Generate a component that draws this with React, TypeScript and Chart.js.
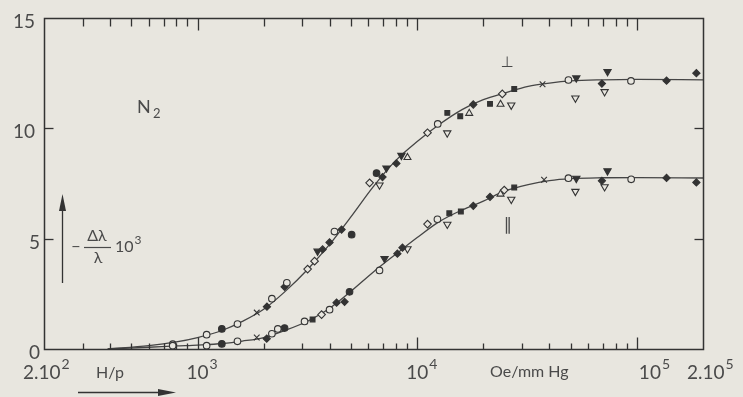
import React, { useEffect, useRef } from "react";
import { Chart, registerables } from "chart.js";

Chart.register(...registerables);

// ---------- data ----------
const xMin = 200;
const xMax = 200000;
const yMin = 0;
const yMax = 15;

const xLabelValues = [200, 1000, 10000, 100000, 200000];
const xLabelBase = ["2.10", "10", "10", "10", "2.10"];
const xLabelExp = ["2", "3", "4", "5", "5"];

const yTickValues = [0, 5, 10, 15];
const yTickLabels = ["0", "5", "10", "15"];

// fitted curves (H/p in Oe/mm Hg, -Δλ/λ · 10³)
const curveH = [390, 600, 800, 1000, 1300, 1600, 2000, 2500, 3200, 4000, 5000, 6300, 8000, 10000, 12500, 16000, 20000, 25000, 32000, 40000, 50000, 70000, 100000, 200000];
const perpCurve = [0, 0.15, 0.32, 0.52, 0.85, 1.25, 1.8, 2.6, 3.65, 4.75, 6.0, 7.35, 8.55, 9.4, 10.15, 10.85, 11.3, 11.6, 11.9, 12.05, 12.15, 12.2, 12.22, 12.2];
const parCurve = [0, 0.08, 0.14, 0.18, 0.25, 0.36, 0.52, 0.84, 1.28, 1.85, 2.62, 3.48, 4.3, 5.05, 5.75, 6.3, 6.7, 7.15, 7.45, 7.63, 7.72, 7.76, 7.77, 7.75];

// measured points, [H/p, value]
const openCircles = [
  [771, 0.22], [1100, 0.65], [1520, 1.13], [2180, 2.28], [2550, 3.0], [4200, 5.32], [12400, 10.2], [48800, 12.19], [94000, 12.15],
  [771, 0.15], [1100, 0.15], [1520, 0.35], [2180, 0.69], [2320, 0.91], [3070, 1.25], [3990, 1.78], [6735, 3.56], [12360, 5.88], [48800, 7.74], [94200, 7.69],
];
const filledCircles = [
  [1290, 0.91], [5030, 5.18], [6530, 7.97],
  [1290, 0.23], [2490, 0.95], [4920, 2.59],
];
const crosses = [
  [1860, 1.65], [37200, 12.0],
  [1860, 0.52], [37800, 7.67],
];
const filledDiamonds = [
  [2070, 1.92], [2490, 2.82], [3710, 4.51], [3990, 4.83], [4525, 5.41], [6950, 7.79], [8040, 8.41], [18000, 11.08], [69300, 12.03], [136500, 12.16], [186600, 12.5],
  [2065, 0.47], [4295, 2.1], [4670, 2.14], [8125, 4.32], [8570, 4.59], [18000, 6.49], [21450, 6.89], [69300, 7.62], [136500, 7.75], [186600, 7.55],
];
const openDiamonds = [
  [3170, 3.62], [3410, 3.98], [6070, 7.53], [11140, 9.8], [24400, 11.56],
  [3670, 1.56], [11140, 5.66], [24900, 7.2],
];
const openTrianglesDown = [
  [6735, 7.43], [13700, 9.79], [26800, 11.05], [52500, 11.37], [71300, 11.66],
  [9030, 4.54], [13710, 5.65], [26800, 6.78], [52500, 7.14], [71300, 7.35],
];
const filledTrianglesDown = [
  [3520, 4.43], [7245, 8.2], [8475, 8.77], [53000, 12.28], [73500, 12.57],
  [7100, 4.1], [53000, 7.73], [73500, 8.07],
];
const filledSquares = [
  [13710, 10.7], [15700, 10.55], [21450, 11.11], [27650, 11.78],
  [3340, 1.34], [14000, 6.15], [15800, 6.23], [27650, 7.32],
];
const openTrianglesUp = [
  [9030, 8.68], [17250, 10.68], [23950, 11.09],
  [23950, 7.02],
];

// ---------- style ----------
const PAPER = "#e8e6df";
const INK = "#333333";
const TEXT = "#4a4a4a";
const FONT = 'Lato, "DejaVu Sans", sans-serif';

function drawPow(ctx: CanvasRenderingContext2D, base: string, exp: string, x: number, y: number, size: number) {
  ctx.textAlign = "left";
  ctx.textBaseline = "alphabetic";
  ctx.font = `${size}px ${FONT}`;
  ctx.fillText(base, x, y);
  const w = ctx.measureText(base).width;
  ctx.font = `${Math.round(size * 0.72)}px ${FONT}`;
  ctx.fillText(exp, x + w + 1, y - size * 0.52);
}

const xLabelOffsets = [-21, -11, -11, 2, -16];
const crisp = (v: number) => Math.round(v) + 0.5;

const annotate = {
  id: "annotate",
  afterDraw(chart: any) {
    const ctx: CanvasRenderingContext2D = chart.ctx;
    const a = chart.chartArea;
    const xs = chart.scales.x;
    const ys = chart.scales.y;
    const L = crisp(a.left), R = crisp(a.right), T = crisp(a.top), B = crisp(a.bottom);
    ctx.save();
    ctx.strokeStyle = INK;
    ctx.fillStyle = INK;
    ctx.lineCap = "butt";
    // frame
    ctx.lineWidth = 1.5;
    ctx.beginPath();
    ctx.moveTo(L, T);
    ctx.lineTo(R, T);
    ctx.lineTo(R, B);
    ctx.lineTo(L, B);
    ctx.closePath();
    ctx.stroke();
    // log ticks, pointing inward, on top and bottom
    ctx.lineWidth = 1.3;
    for (let d = 100; d <= 100000; d *= 10) {
      for (let m = 1; m <= 9; m++) {
        const v = m * d;
        if (v <= xMin || v >= xMax) continue;
        const px = crisp(xs.getPixelForValue(v));
        const major = m === 1;
        ctx.beginPath();
        ctx.moveTo(px, T);
        ctx.lineTo(px, T + (major ? 12 : 8));
        ctx.stroke();
        ctx.beginPath();
        ctx.moveTo(px, B);
        ctx.lineTo(px, B - (major ? 12 : 6));
        ctx.stroke();
      }
    }
    yTickValues.forEach((v) => {
      if (v === yMin || v === yMax) return;
      const py = crisp(ys.getPixelForValue(v));
      ctx.beginPath();
      ctx.moveTo(L, py);
      ctx.lineTo(L + 9, py);
      ctx.stroke();
      ctx.beginPath();
      ctx.moveTo(R, py);
      ctx.lineTo(R - 9, py);
      ctx.stroke();
    });

    // x tick labels
    ctx.fillStyle = TEXT;
    xLabelValues.forEach((v, i) => {
      const px = xs.getPixelForValue(v);
      drawPow(ctx, xLabelBase[i], xLabelExp[i], px + xLabelOffsets[i], a.bottom + 30, 19);
    });
    // y tick labels
    ctx.font = `19px ${FONT}`;
    ctx.textAlign = "right";
    ctx.textBaseline = "middle";
    yTickValues.forEach((v, i) => {
      const py = ys.getPixelForValue(v);
      ctx.fillText(yTickLabels[i], a.left - (v < 10 ? 4 : 9), py + 4);
    });

    // axis titles
    ctx.textAlign = "left";
    ctx.textBaseline = "alphabetic";
    ctx.font = `16px ${FONT}`;
    ctx.fillText("H/p", 96, 378);
    ctx.fillText("Oe/mm Hg", 490, 377);

    // H/p arrow
    ctx.strokeStyle = INK;
    ctx.fillStyle = INK;
    ctx.lineWidth = 1.3;
    ctx.beginPath();
    ctx.moveTo(78, 392.5);
    ctx.lineTo(165, 392.5);
    ctx.stroke();
    ctx.beginPath();
    ctx.moveTo(176, 392.5);
    ctx.lineTo(158, 389);
    ctx.lineTo(158, 396);
    ctx.closePath();
    ctx.fill();

    // vertical arrow
    ctx.beginPath();
    ctx.moveTo(62.5, 283);
    ctx.lineTo(62.5, 205);
    ctx.stroke();
    ctx.beginPath();
    ctx.moveTo(62.5, 194);
    ctx.lineTo(59, 211);
    ctx.lineTo(66, 211);
    ctx.closePath();
    ctx.fill();

    // -Δλ/λ · 10³
    ctx.fillStyle = TEXT;
    ctx.font = `16px ${FONT}`;
    ctx.textAlign = "center";
    ctx.fillText("−", 76, 252);
    ctx.fillText("Δλ", 97, 241);
    ctx.fillText("λ", 98, 263);
    ctx.strokeStyle = TEXT;
    ctx.lineWidth = 1.2;
    ctx.beginPath();
    ctx.moveTo(84, 247.5);
    ctx.lineTo(111, 247.5);
    ctx.stroke();
    drawPow(ctx, "10", "3", 115, 252, 16);

    // N₂
    ctx.textAlign = "left";
    ctx.font = `18px ${FONT}`;
    ctx.fillText("N", 137, 113);
    ctx.font = `13px ${FONT}`;
    ctx.fillText("2", 153, 118);

    // ⊥ and ∥
    ctx.textAlign = "center";
    ctx.font = `15px "DejaVu Sans", sans-serif`;
    ctx.fillText("⊥", 507, 67);
    ctx.font = `italic 17px "DejaVu Sans", sans-serif`;
    ctx.fillText("∥", 508, 230);

    ctx.restore();
  },
};

export default function App() {
  const ref = useRef<HTMLCanvasElement>(null);
  useEffect(() => {
    const canvas = ref.current;
    if (!canvas) return;
    const toXY = (pairs: number[][]) => pairs.map(([x, y]) => ({ x, y }));
    const curveData = (vals: number[]) => curveH.map((h, i) => ({ x: h, y: vals[i] }));
    const mk = (label: string, pts: number[][], style: string, filled: boolean, radius: number, rotation = 0) => ({
      label,
      data: toXY(pts),
      pointStyle: style,
      rotation,
      pointRadius: radius,
      pointBackgroundColor: filled ? INK : PAPER,
      pointBorderColor: INK,
      pointBorderWidth: 1.1,
      backgroundColor: filled ? INK : PAPER,
      borderColor: INK,
      showLine: false,
      order: 0,
    });
    const line = (label: string, vals: number[]) => ({
      label,
      data: curveData(vals),
      showLine: true,
      pointRadius: 0,
      borderColor: "#454545",
      borderWidth: 1.3,
      cubicInterpolationMode: "monotone",
      fill: false,
      order: 10,
    });
    const chart = new Chart(canvas, {
      type: "scatter",
      data: {
        datasets: [
          mk("open circle", openCircles, "circle", false, 3.3),
          mk("filled circle", filledCircles, "circle", true, 3.3),
          mk("cross", crosses, "crossRot", false, 4),
          mk("filled diamond", filledDiamonds, "rectRot", true, 3.6),
          mk("open diamond", openDiamonds, "rectRot", false, 3.8),
          mk("open triangle down", openTrianglesDown, "triangle", false, 4.2, 180),
          mk("filled triangle down", filledTrianglesDown, "triangle", true, 4.2, 180),
          mk("filled square", filledSquares, "rect", true, 3.4),
          mk("open triangle up", openTrianglesUp, "triangle", false, 4),
          line("⊥", perpCurve),
          line("∥", parCurve),
        ] as any,
      },
      options: {
        responsive: false,
        animation: false,
        devicePixelRatio: 1,
        events: [],
        layout: { padding: { left: 44, top: 18, right: 40, bottom: 48 } },
        plugins: { legend: { display: false }, tooltip: { enabled: false } },
        scales: {
          x: { type: "logarithmic", min: xMin, max: xMax, display: false },
          y: { type: "linear", min: yMin, max: yMax, display: false },
        },
      } as any,
      plugins: [annotate],
    });
    return () => chart.destroy();
  }, []);
  return (
    <div style={{ position: "absolute", left: 0, top: 0, width: 743, height: 397, background: PAPER }}>
      <canvas ref={ref} width={743} height={397} style={{ display: "block" }} />
    </div>
  );
}
